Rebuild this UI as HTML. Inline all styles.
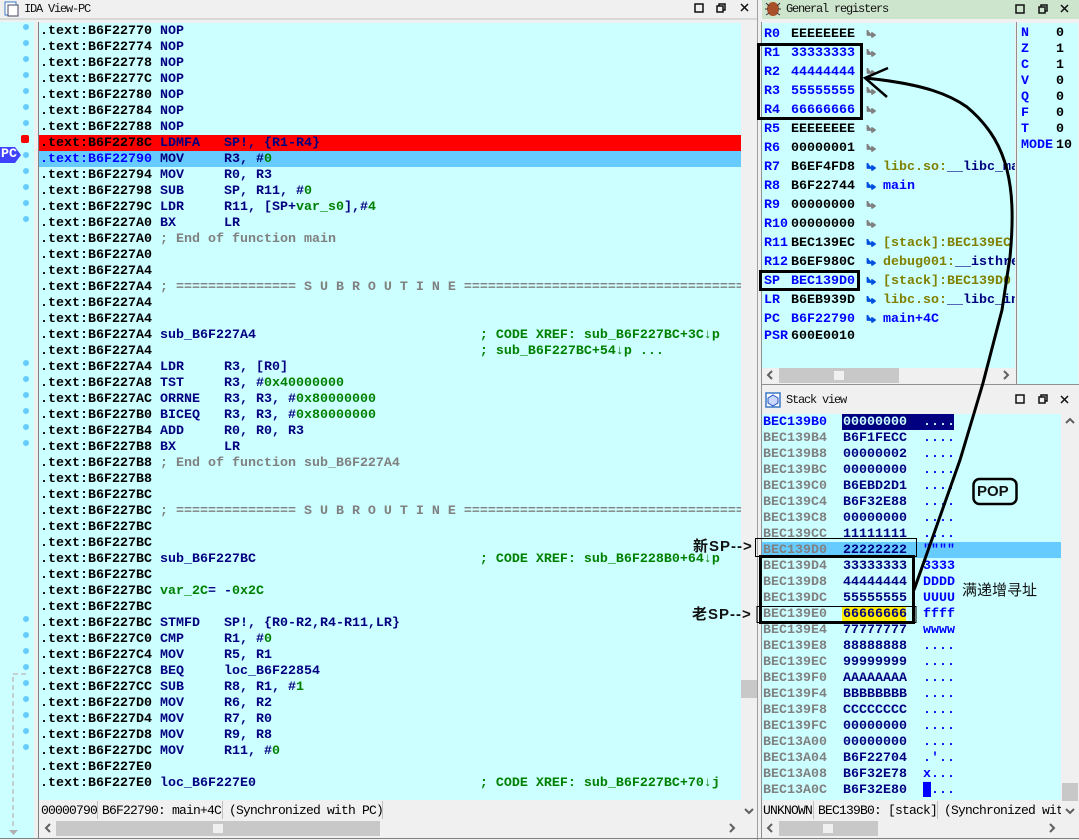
<!DOCTYPE html>
<html><head><meta charset="utf-8"><style>
html,body{margin:0;padding:0;width:1079px;height:840px;overflow:hidden;background:#f0f0f0}
.a{position:absolute}
pre{position:absolute;margin:0;font:bold 13.33px/16px "Liberation Mono",monospace;color:#000;white-space:pre}
.st{font-weight:normal;color:#000;font-size:13px;line-height:18px;letter-spacing:-0.8px}
.t{position:absolute;font:12px/16px "Liberation Mono",monospace;letter-spacing:-1.2px;color:#111;white-space:pre}
i{font-style:normal}
.n{color:#000080}.g{color:#008000}.y{color:#808080}.b{color:#0000ff}.o{color:#808000}
.c{background:#ccffff;position:absolute}
.lb{position:absolute;font:bold 15px/18px "Liberation Sans","Noto Sans CJK SC",sans-serif;color:#111;white-space:pre}
</style></head><body>
<!-- panel backgrounds -->
<div class="a" style="left:0;top:18px;width:758px;height:2px;background:#d8d8d8"></div>
<div class="a" style="left:762px;top:0;width:317px;height:19px;background:#cde4cd"></div>
<div class="c" style="left:0;top:22px;width:34px;height:816px"></div>
<div class="c" style="left:39px;top:23px;width:702px;height:777px"></div>
<div class="a" style="left:38px;top:22px;width:1px;height:816px;background:#808080"></div>
<div class="a" style="left:757px;top:0;width:1px;height:840px;background:#a0a0a0"></div>
<div class="a" style="left:761px;top:22px;width:1px;height:816px;background:#909090"></div>
<div class="a" style="left:39px;top:135px;width:702px;height:16px;background:#f00"></div>
<div class="a" style="left:39px;top:151px;width:702px;height:16px;background:#66ccff"></div>
<div class="c" style="left:762px;top:23px;width:253px;height:345px"></div>
<div class="c" style="left:1018px;top:23px;width:60px;height:361px"></div>
<div class="a" style="left:1016px;top:22px;width:1px;height:362px;background:#909090"></div>
<div class="a" style="left:761px;top:384px;width:318px;height:1px;background:#909090"></div>
<div class="c" style="left:762px;top:414px;width:299px;height:386px"></div>
<div class="a" style="left:762px;top:542px;width:299px;height:16px;background:#66ccff"></div>
<div class="a" style="left:842px;top:414px;width:112px;height:16px;background:#000080"></div>
<div class="a" style="left:842px;top:606px;width:64px;height:16px;background:#ffee00"></div>
<!-- code -->
<div class="a" style="left:40px;top:22px;width:701px;height:778px;overflow:hidden">
<pre style="left:0;top:2px">.text:B6F22770 <i class="n">NOP</i>
.text:B6F22774 <i class="n">NOP</i>
.text:B6F22778 <i class="n">NOP</i>
.text:B6F2277C <i class="n">NOP</i>
.text:B6F22780 <i class="n">NOP</i>
.text:B6F22784 <i class="n">NOP</i>
.text:B6F22788 <i class="n">NOP</i>
.text:B6F2278C <i class="n">LDMFA   SP!, {R1-R4}</i>
<i class="b">.text:B6F22790</i> <i class="n">MOV     R3, #</i><i class="g">0</i>
.text:B6F22794 <i class="n">MOV     R0, R3</i>
.text:B6F22798 <i class="n">SUB     SP, R11, #</i><i class="g">0</i>
.text:B6F2279C <i class="n">LDR     R11, [SP+</i><i class="g">var_s0</i><i class="n">],#</i><i class="g">4</i>
.text:B6F227A0 <i class="n">BX      LR</i>
.text:B6F227A0 <i class="y">; End of function main</i>
.text:B6F227A0
.text:B6F227A4
.text:B6F227A4 <i class="y">; =============== S U B R O U T I N E =======================================</i>
.text:B6F227A4
.text:B6F227A4
.text:B6F227A4 <i class="n">sub_B6F227A4</i>                            <i class="g">; CODE XREF: sub_B6F227BC+3C↓p</i>
.text:B6F227A4                                         <i class="g">; sub_B6F227BC+54↓p ...</i>
.text:B6F227A4 <i class="n">LDR     R3, [R0]</i>
.text:B6F227A8 <i class="n">TST     R3, #</i><i class="g">0x40000000</i>
.text:B6F227AC <i class="n">ORRNE   R3, R3, #</i><i class="g">0x80000000</i>
.text:B6F227B0 <i class="n">BICEQ   R3, R3, #</i><i class="g">0x80000000</i>
.text:B6F227B4 <i class="n">ADD     R0, R0, R3</i>
.text:B6F227B8 <i class="n">BX      LR</i>
.text:B6F227B8 <i class="y">; End of function sub_B6F227A4</i>
.text:B6F227B8
.text:B6F227BC
.text:B6F227BC <i class="y">; =============== S U B R O U T I N E =======================================</i>
.text:B6F227BC
.text:B6F227BC
.text:B6F227BC <i class="n">sub_B6F227BC</i>                            <i class="g">; CODE XREF: sub_B6F228B0+64↓p</i>
.text:B6F227BC
.text:B6F227BC <i class="g">var_2C</i><i class="n">= -</i><i class="g">0x2C</i>
.text:B6F227BC
.text:B6F227BC <i class="n">STMFD   SP!, {R0-R2,R4-R11,LR}</i>
.text:B6F227C0 <i class="n">CMP     R1, #</i><i class="g">0</i>
.text:B6F227C4 <i class="n">MOV     R5, R1</i>
.text:B6F227C8 <i class="n">BEQ     loc_B6F22854</i>
.text:B6F227CC <i class="n">SUB     R8, R1, #</i><i class="g">1</i>
.text:B6F227D0 <i class="n">MOV     R6, R2</i>
.text:B6F227D4 <i class="n">MOV     R7, R0</i>
.text:B6F227D8 <i class="n">MOV     R9, R8</i>
.text:B6F227DC <i class="n">MOV     R11, #</i><i class="g">0</i>
.text:B6F227E0
.text:B6F227E0 <i class="n">loc_B6F227E0</i>                            <i class="g">; CODE XREF: sub_B6F227BC+70↓j</i></pre>
</div>
<!-- gutter + chrome -->
<svg class="a" style="left:0;top:0" width="1079" height="840">
<g fill="#66ccff"><circle cx="26" cy="27" r="3"/><circle cx="26" cy="43" r="3"/><circle cx="26" cy="59" r="3"/><circle cx="26" cy="75" r="3"/><circle cx="26" cy="91" r="3"/><circle cx="26" cy="107" r="3"/><circle cx="26" cy="123" r="3"/><circle cx="26" cy="155" r="3"/><circle cx="26" cy="171" r="3"/><circle cx="26" cy="187" r="3"/><circle cx="26" cy="203" r="3"/><circle cx="26" cy="219" r="3"/>
<circle cx="26" cy="667" r="3"/><circle cx="26" cy="683" r="3"/><circle cx="26" cy="699" r="3"/><circle cx="26" cy="715" r="3"/><circle cx="26" cy="731" r="3"/><circle cx="26" cy="747" r="3"/></g>
<g fill="#66ccff"><circle cx="26" cy="363" r="3"/><circle cx="26" cy="379" r="3"/><circle cx="26" cy="395" r="3"/><circle cx="26" cy="411" r="3"/><circle cx="26" cy="427" r="3"/><circle cx="26" cy="443" r="3"/>
<circle cx="26" cy="619" r="3"/><circle cx="26" cy="635" r="3"/><circle cx="26" cy="651" r="3"/></g>
<rect x="21" y="135" width="8" height="8" rx="2" fill="#f00"/>
<path d="M0 147H15L21 155L15 163H0Z" fill="#4040ff"/>
<path d="M26 674H13V828" fill="none" stroke="#c0c0c0" stroke-width="1.5" stroke-dasharray="5 3"/>
<path d="M9 830H18L13.500 835Z" fill="#b0b0b0"/>
<!-- title icons -->
<rect x="5" y="2" width="11" height="13" fill="#fff" stroke="#3a78c8"/><rect x="8" y="5" width="10" height="11" fill="#fff" stroke="#446"/>
<ellipse cx="773" cy="9" rx="6" ry="7" fill="#a8502a"/><path d="M766 3l3 3M780 3l-3 3M765 9h3M781 9h-3M766 15l3-2M780 15l-3-2" stroke="#333"/>
<rect x="766" y="393" width="14" height="14" fill="#fff" stroke="#3a78c8" stroke-width="1.500"/><path d="M773 395l5 3v5l-5 3l-5-3v-5z" fill="#ccd8ff" stroke="#2050c0"/>
<!-- window buttons -->
<g fill="none" stroke="#111" stroke-width="1.500">
<rect x="695" y="4" width="8" height="8"/><rect x="717" y="6" width="6" height="6"/><path d="M719 6V4h6v6h-2"/><path d="M741 4l7 7M748 4l-7 7"/>
<rect x="1016" y="5" width="8" height="8"/><rect x="1039" y="7" width="6" height="6"/><path d="M1041 7V5h6v6h-2"/><path d="M1061 5l7 7M1068 5l-7 7"/>
<rect x="1016" y="395" width="8" height="8"/><rect x="1039" y="397" width="6" height="6"/><path d="M1041 397v-2h6v6h-2"/><path d="M1061 396l7 7M1068 396l-7 7"/>
</g>
<!-- scrollbars -->
<rect x="741" y="680" width="16" height="18" fill="#c8c8c8"/>
<path d="M745 809l4 4l4-4" fill="none" stroke="#606060" stroke-width="2"/>
<rect x="56" y="821" width="324" height="15" fill="#c8c8c8"/><rect x="213" y="824" width="10" height="9" fill="#f0f0f0"/>
<path d="M50 824l-4 4l4 4M730 824l4 4l-4 4" fill="none" stroke="#606060" stroke-width="2"/>
<rect x="779" y="368" width="120" height="15" fill="#c8c8c8"/><rect x="834" y="371" width="10" height="9" fill="#f0f0f0"/>
<path d="M772 371l-4 4l4 4M1004 371l4 4l-4 4" fill="none" stroke="#606060" stroke-width="2"/>
<rect x="779" y="821" width="99" height="15" fill="#c8c8c8"/><rect x="823" y="824" width="10" height="9" fill="#f0f0f0"/>
<path d="M772 824l-4 4l4 4M1050 824l4 4l-4 4" fill="none" stroke="#606060" stroke-width="2"/>
<rect x="1062" y="783" width="16" height="18" fill="#c8c8c8"/>
<path d="M1066 809l4 4l4-4M1066 423l4-4l4 4" fill="none" stroke="#606060" stroke-width="2"/>
<path d="M97.500 801v18M222.500 801v18M382.500 801v18M813.500 801v18M937.500 801v18" stroke="#c0c0c0"/>
<path d="M0 838.500H1079" stroke="#808080"/>
<!-- register arrows -->
<path fill="#808080" stroke="#808080" stroke-width="1.800" stroke-linejoin="round" d="M867.500 30V35H872M872 33V37L875 35ZM867.500 49V54H872M872 52V56L875 54ZM867.500 68V73H872M872 71V75L875 73ZM867.500 87V92H872M872 90V94L875 92ZM867.500 106V111H872M872 109V113L875 111ZM867.500 125V130H872M872 128V132L875 130ZM867.500 144V149H872M872 147V151L875 149ZM867.500 201V206H872M872 204V208L875 206ZM867.500 220V225H872M872 223V227L875 225Z"/>
<path fill="#0050e0" stroke="#0050e0" stroke-width="1.800" stroke-linejoin="round" d="M867.500 163V168H872M872 166V170L875 168ZM867.500 182V187H872M872 185V189L875 187ZM867.500 239V244H872M872 242V246L875 244ZM867.500 258V263H872M872 261V265L875 263ZM867.500 277V282H872M872 280V284L875 282ZM867.500 296V301H872M872 299V303L875 301ZM867.500 315V320H872M872 318V322L875 320Z"/>
</svg>
<pre style="left:1px;top:147px;color:#fff">PC</pre>
<!-- titles -->
<div class="t" style="left:24px;top:1px">IDA View-PC</div>
<div class="t" style="left:786px;top:1px">General registers</div>
<div class="t" style="left:786px;top:392px">Stack view</div>
<!-- registers -->
<pre class="b" style="left:764px;top:25px;line-height:19px">R0
R1
R2
R3
R4
R5
R6
R7
R8
R9
R10
R11
R12
SP
LR
PC</pre>
<pre class="b" style="left:764px;top:329px">PSR</pre>
<pre style="left:791px;top:25px;line-height:19px">EEEEEEEE
<i class="b">33333333
44444444
55555555
66666666</i>
EEEEEEEE
00000001
B6EF4FD8
B6F22744
00000000
00000000
BEC139EC
B6EF980C
<i class="b">BEC139D0</i>
B6EB939D
<i class="b">B6F22790</i></pre>
<pre style="left:791px;top:329px">600E0010</pre>
<div class="a" style="left:883px;top:25px;width:132px;height:330px;overflow:hidden">
<pre style="left:0;top:133px;line-height:19px"><i class="o">libc.so:</i><i class="n">__libc_main</i>
<i class="b">main</i></pre>
<pre style="left:0;top:209px;line-height:19px"><i class="o">[stack]:BEC139EC</i>
<i class="o">debug001:</i><i class="n">__isthreaded</i>
<i class="o">[stack]:BEC139D0</i>
<i class="o">libc.so:</i><i class="n">__libc_init</i>
<i class="b">main+4C</i></pre></div>
<!-- flags -->
<pre class="b" style="left:1021px;top:26px">N
Z
C
V
Q
F
T
MODE</pre>
<pre style="left:1056px;top:26px">0
1
1
0
0
0
0
10</pre>
<!-- stack -->
<pre class="y" style="left:763px;top:415px"><i class="b">BEC139B0</i>
BEC139B4
BEC139B8
BEC139BC
BEC139C0
BEC139C4
BEC139C8
BEC139CC
BEC139D0
BEC139D4
BEC139D8
BEC139DC
BEC139E0
BEC139E4
BEC139E8
BEC139EC
BEC139F0
BEC139F4
BEC139F8
BEC139FC
BEC13A00
BEC13A04
BEC13A08
BEC13A0C</pre>
<pre class="n" style="left:843px;top:415px"><i style="color:#ccffff">00000000</i>
B6F1FECC
00000002
00000000
B6EBD2D1
B6F32E88
00000000
11111111
22222222
33333333
44444444
55555555
66666666
77777777
88888888
99999999
AAAAAAAA
BBBBBBBB
CCCCCCCC
00000000
00000000
B6F22704
B6F32E78
B6F32E80</pre>
<pre class="b" style="left:923px;top:415px"><i style="color:#ccffff">....</i>
....
....
....
....
....
....
....
""""
3333
DDDD
UUUU
ffff
wwww
....
....
....
....
....
....
....
.'..
x...
█...</pre>
<!-- status bars -->
<pre class="st" style="left:41px;top:802px">00000790</pre>
<pre class="st" style="left:102px;top:802px">B6F22790: main+4C</pre>
<pre class="st" style="left:229px;top:802px">(Synchronized with PC)</pre>
<pre class="st" style="left:763px;top:802px">UNKNOWN</pre>
<pre class="st" style="left:818px;top:802px">BEC139B0: [stack]</pre>
<div class="a" style="left:944px;top:802px;width:117px;height:18px;overflow:hidden"><pre class="st" style="left:0;top:0">(Synchronized with PC)</pre></div>
<!-- annotations -->
<svg class="a" style="left:0;top:0" width="1079" height="840" fill="none">
<rect x="758.500" y="44.500" width="103" height="74" stroke="#000" stroke-width="3"/>
<rect x="760.500" y="271.500" width="98" height="18" stroke="#000" stroke-width="3"/>
<rect x="755.500" y="538.500" width="161" height="18" stroke="#000"/>
<rect x="760.500" y="556.500" width="153" height="66" stroke="#000" stroke-width="3"/>
<rect x="757" y="606.500" width="159" height="16" stroke="#000"/>
<path d="M914 590L960 460L975 410L983 383L1002 310L1010 257C1014 215 1012 190 1007 170C1002 150 992 128 967 107C950 95 925 84 865 78" stroke="#000" stroke-width="3"/>
<path d="M888 68L865 78L887 97" stroke="#000" stroke-width="2.500"/>
<rect x="973.500" y="479" width="43" height="25" rx="6" stroke="#000" stroke-width="2.500"/>
</svg>
<div class="lb" style="left:977px;top:483px;font-size:15px">POP</div>
<div class="lb" style="left:962px;top:582px;font-weight:normal;font-size:15px">满递增寻址</div>
<div class="lb" style="left:693px;top:538px;font-size:15px;letter-spacing:1px">新SP--&gt;</div>
<div class="lb" style="left:692px;top:606px;font-size:15px;letter-spacing:1px">老SP--&gt;</div>
</body></html>
